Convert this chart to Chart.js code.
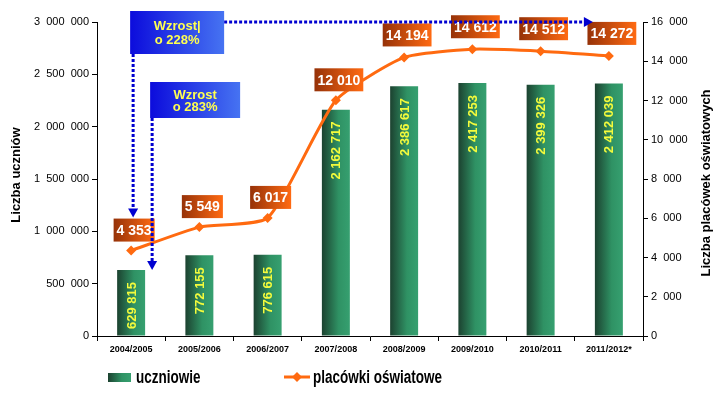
<!DOCTYPE html>
<html lang="pl">
<head>
<meta charset="utf-8">
<title>Uczniowie i placówki oświatowe</title>
<script src="https://cdn.jsdelivr.net/npm/chart.js@4/dist/chart.umd.min.js"></script>
<style>
  html, body { margin: 0; padding: 0; background: #fff; }
  #wrap { width: 727px; height: 396px; }
</style>
</head>
<body>
<div id="wrap"><canvas id="wykres" width="727" height="396"></canvas></div>
<script>
// dane z wykresu
const sezony = ['2004/2005', '2005/2006', '2006/2007', '2007/2008', '2008/2009', '2009/2010', '2010/2011', '2011/2012*'];
const uczniowie = [629815, 772155, 776615, 2162717, 2386617, 2417253, 2399326, 2412039];
const placowki = [4353, 5549, 6017, 12010, 14194, 14612, 14512, 14272];
const wzrostUczniow = ['Wzrost|', 'o 228%'];
const wzrostPlacowek = ['Wzrost', 'o 283%'];

const FONT = 'Arial, "Liberation Sans", sans-serif';

// "3 000 000" - separator tysięcy
function fmt(n, sep) {
  return String(n).replace(/\B(?=(\d{3})+(?!\d))/g, sep || ' ');
}

function gradientBlue(ctx, x, w) {
  const g = ctx.createLinearGradient(x, 0, x + w, 0);
  g.addColorStop(0, '#0c0cdc');
  g.addColorStop(1, '#4673f2');
  return g;
}

function gradientOrange(ctx, x, w) {
  const g = ctx.createLinearGradient(x, 0, x + w, 0);
  g.addColorStop(0, '#963208');
  g.addColorStop(1, '#ff6a12');
  return g;
}

function gradientGreen(ctx, x, w) {
  const g = ctx.createLinearGradient(x, 0, x + w, 0);
  g.addColorStop(0, '#1c4230');
  g.addColorStop(0.6, '#2f9264');
  g.addColorStop(1, '#36a070');
  return g;
}

function diamond(ctx, x, y, r) {
  ctx.beginPath();
  ctx.moveTo(x, y - r);
  ctx.lineTo(x + r, y);
  ctx.lineTo(x, y + r);
  ctx.lineTo(x - r, y);
  ctx.closePath();
  ctx.fill();
}

function dotted(ctx, x1, y1, x2, y2) {
  ctx.save();
  ctx.strokeStyle = '#0000d0';
  ctx.lineWidth = 3;
  ctx.setLineDash([3, 2]);
  ctx.beginPath();
  ctx.moveTo(x1, y1);
  ctx.lineTo(x2, y2);
  ctx.stroke();
  ctx.restore();
}

function arrowHead(ctx, x, y, dir) {
  ctx.save();
  ctx.fillStyle = '#0000d0';
  ctx.beginPath();
  if (dir === 'down') {
    ctx.moveTo(x, y); ctx.lineTo(x - 5, y - 9); ctx.lineTo(x + 5, y - 9);
  } else {
    ctx.moveTo(x, y); ctx.lineTo(x - 9, y - 5); ctx.lineTo(x - 9, y + 5);
  }
  ctx.closePath();
  ctx.fill();
  ctx.restore();
}

function blueBox(ctx, x, y, w, h, lines) {
  ctx.fillStyle = gradientBlue(ctx, x, w);
  ctx.fillRect(x, y, w, h);
  ctx.fillStyle = '#ffff50';
  ctx.font = 'bold 13px ' + FONT;
  ctx.textAlign = 'center';
  ctx.textBaseline = 'middle';
  const step = h / (lines.length + 1);
  lines.forEach((t, i) => ctx.fillText(t, x + w / 2, y + step * (i + 1) + 1));
}

const dodatki = {
  id: 'dodatki',
  afterDatasetsDraw(chart) {
    const ctx = chart.ctx;
    const barMeta = chart.getDatasetMeta(0);
    const lineMeta = chart.getDatasetMeta(1);

    // etykiety słupków - żółte, pionowe
    ctx.save();
    ctx.fillStyle = '#f4fb3c';
    ctx.font = 'bold 13px ' + FONT;
    ctx.textAlign = 'right';
    ctx.textBaseline = 'middle';
    barMeta.data.forEach((el, i) => {
      ctx.save();
      ctx.translate(el.x + 1, el.y + 12);
      ctx.rotate(-Math.PI / 2);
      ctx.fillText(fmt(uczniowie[i]), 0, 0);
      ctx.restore();
    });
    ctx.restore();

    // etykiety linii - pomarańczowe ramki
    ctx.save();
    ctx.font = 'bold 14px ' + FONT;
    ctx.textAlign = 'center';
    ctx.textBaseline = 'middle';
    lineMeta.data.forEach((pt, i) => {
      const txt = fmt(placowki[i]);
      const w = ctx.measureText(txt).width + 6;
      const h = 23;
      const cx = pt.x + 3;
      const bottom = pt.y - 9 - (i > 3 ? 2 : 0);
      ctx.fillStyle = gradientOrange(ctx, cx - w / 2, w);
      ctx.fillRect(cx - w / 2, bottom - h, w, h);
      ctx.fillStyle = '#fff';
      ctx.fillText(txt, cx, bottom - h / 2 + 1);
    });
    ctx.restore();

    // adnotacje ze strzałkami
    const xs = chart.scales.x, yl = chart.scales.y, yr = chart.scales.y1;
    const top = chart.chartArea.top;
    const x0 = xs.getPixelForValue(0);
    ctx.save();
    const b1 = { x: x0 - 1, y: top - 11, w: 94, h: 43 };
    const b2 = { x: x0 + 19, y: top + 60, w: 90, h: 36 };
    // pozioma strzałka do ostatniego sezonu
    const xEnd = xs.getPixelForValue(sezony.length - 1) - 16;
    dotted(ctx, b1.x + b1.w, top, xEnd - 8, top);
    arrowHead(ctx, xEnd, top, 'right');
    // pionowe strzałki
    const tip1 = yr.getPixelForValue(placowki[0]) - 33;
    dotted(ctx, x0 + 2, b1.y + b1.h, x0 + 2, tip1 - 8);
    arrowHead(ctx, x0 + 2, tip1, 'down');
    const tip2 = yl.getPixelForValue(uczniowie[0]);
    dotted(ctx, x0 + 21, b2.y + b2.h, x0 + 21, tip2 - 8);
    arrowHead(ctx, x0 + 21, tip2, 'down');
    blueBox(ctx, b1.x, b1.y, b1.w, b1.h, wzrostUczniow);
    blueBox(ctx, b2.x, b2.y, b2.w, b2.h, wzrostPlacowek);
    ctx.restore();
  },
  afterDraw(chart) {
    const ctx = chart.ctx;
    const area = chart.chartArea;
    const midY = (area.top + area.bottom) / 2;

    // tytuły osi
    ctx.save();
    ctx.fillStyle = '#000';
    ctx.font = 'bold 13px ' + FONT;
    ctx.textAlign = 'center';
    ctx.textBaseline = 'middle';
    ctx.save();
    ctx.translate(area.left - 81, midY - 4);
    ctx.rotate(-Math.PI / 2);
    ctx.fillText('Liczba uczniów', 0, 0);
    ctx.restore();
    ctx.save();
    ctx.translate(area.right + 63, midY + 4);
    ctx.rotate(-Math.PI / 2);
    ctx.fillText('Liczba placówek oświatowych', 0, 0);
    ctx.restore();
    ctx.restore();

    // legenda
    const ly = area.bottom + 41;
    ctx.save();
    const sx = area.left + 11;
    ctx.fillStyle = gradientGreen(ctx, sx, 23);
    ctx.fillRect(sx, ly - 4, 23, 9);
    ctx.fillStyle = '#000';
    ctx.font = 'bold 18px ' + FONT;
    ctx.textBaseline = 'middle';
    ctx.textAlign = 'left';
    ctx.save();
    ctx.translate(sx + 28, ly + 1);
    ctx.scale(0.75, 1);
    ctx.fillText('uczniowie', 0, 0);
    ctx.restore();
    const lx = area.left + 187;
    ctx.strokeStyle = '#ff6a10';
    ctx.lineWidth = 3;
    ctx.beginPath();
    ctx.moveTo(lx, ly);
    ctx.lineTo(lx + 26, ly);
    ctx.stroke();
    ctx.fillStyle = '#ff6a10';
    diamond(ctx, lx + 13, ly, 5);
    ctx.fillStyle = '#000';
    ctx.save();
    ctx.translate(lx + 29, ly + 1);
    ctx.scale(0.75, 1);
    ctx.fillText('placówki oświatowe', 0, 0);
    ctx.restore();
    ctx.restore();
  }
};

new Chart(document.getElementById('wykres').getContext('2d'), {
  type: 'bar',
  data: {
    labels: sezony,
    datasets: [
      {
        type: 'bar',
        label: 'uczniowie',
        data: uczniowie,
        yAxisID: 'y',
        order: 2,
        categoryPercentage: 1,
        barPercentage: 0.41,
        backgroundColor: (c) => {
          const chart = c.chart;
          if (!chart.chartArea || c.dataIndex === undefined) return '#2f9264';
          const x = chart.scales.x.getPixelForValue(c.dataIndex);
          return gradientGreen(chart.ctx, x - 14, 28);
        }
      },
      {
        type: 'line',
        label: 'placówki oświatowe',
        data: placowki,
        yAxisID: 'y1',
        order: 1,
        borderColor: '#ff6a10',
        backgroundColor: '#ff6a10',
        borderWidth: 3,
        tension: 0.18,
        pointStyle: 'rectRot',
        pointRadius: 5,
        pointBorderWidth: 0,
        fill: false
      }
    ]
  },
  options: {
    responsive: false,
    animation: false,
    layout: { padding: { top: 22, bottom: 36, left: 0, right: 0 } },
    plugins: {
      legend: { display: false },
      tooltip: { enabled: false }
    },
    scales: {
      x: {
        offset: true,
        grid: { offset: true, drawOnChartArea: false, tickLength: 5, color: '#000' },
        border: { color: '#000', width: 1 },
        ticks: {
          color: '#000',
          font: { family: FONT, size: 9, weight: 'bold' },
          padding: 3,
          maxRotation: 0,
          autoSkip: false
        },
        afterFit: (s) => { s.height = 24; }
      },
      y: {
        position: 'left',
        min: 0,
        max: 3000000,
        grid: { drawOnChartArea: false, tickLength: 5, color: '#000' },
        border: { color: '#000', width: 1 },
        ticks: {
          stepSize: 500000,
          color: '#000',
          font: { family: FONT, size: 11 },
          padding: 3,
          callback: (v) => fmt(v, '  ')
        },
        afterFit: (s) => { s.width = 97; }
      },
      y1: {
        position: 'right',
        min: 0,
        max: 16000,
        grid: { drawOnChartArea: false, tickLength: 5, color: '#000' },
        border: { color: '#000', width: 1 },
        ticks: {
          stepSize: 2000,
          color: '#000',
          font: { family: FONT, size: 11 },
          padding: 3,
          callback: (v) => fmt(v, '  ')
        },
        afterFit: (s) => { s.width = 84; }
      }
    }
  },
  plugins: [dodatki]
});
</script>
</body>
</html>
